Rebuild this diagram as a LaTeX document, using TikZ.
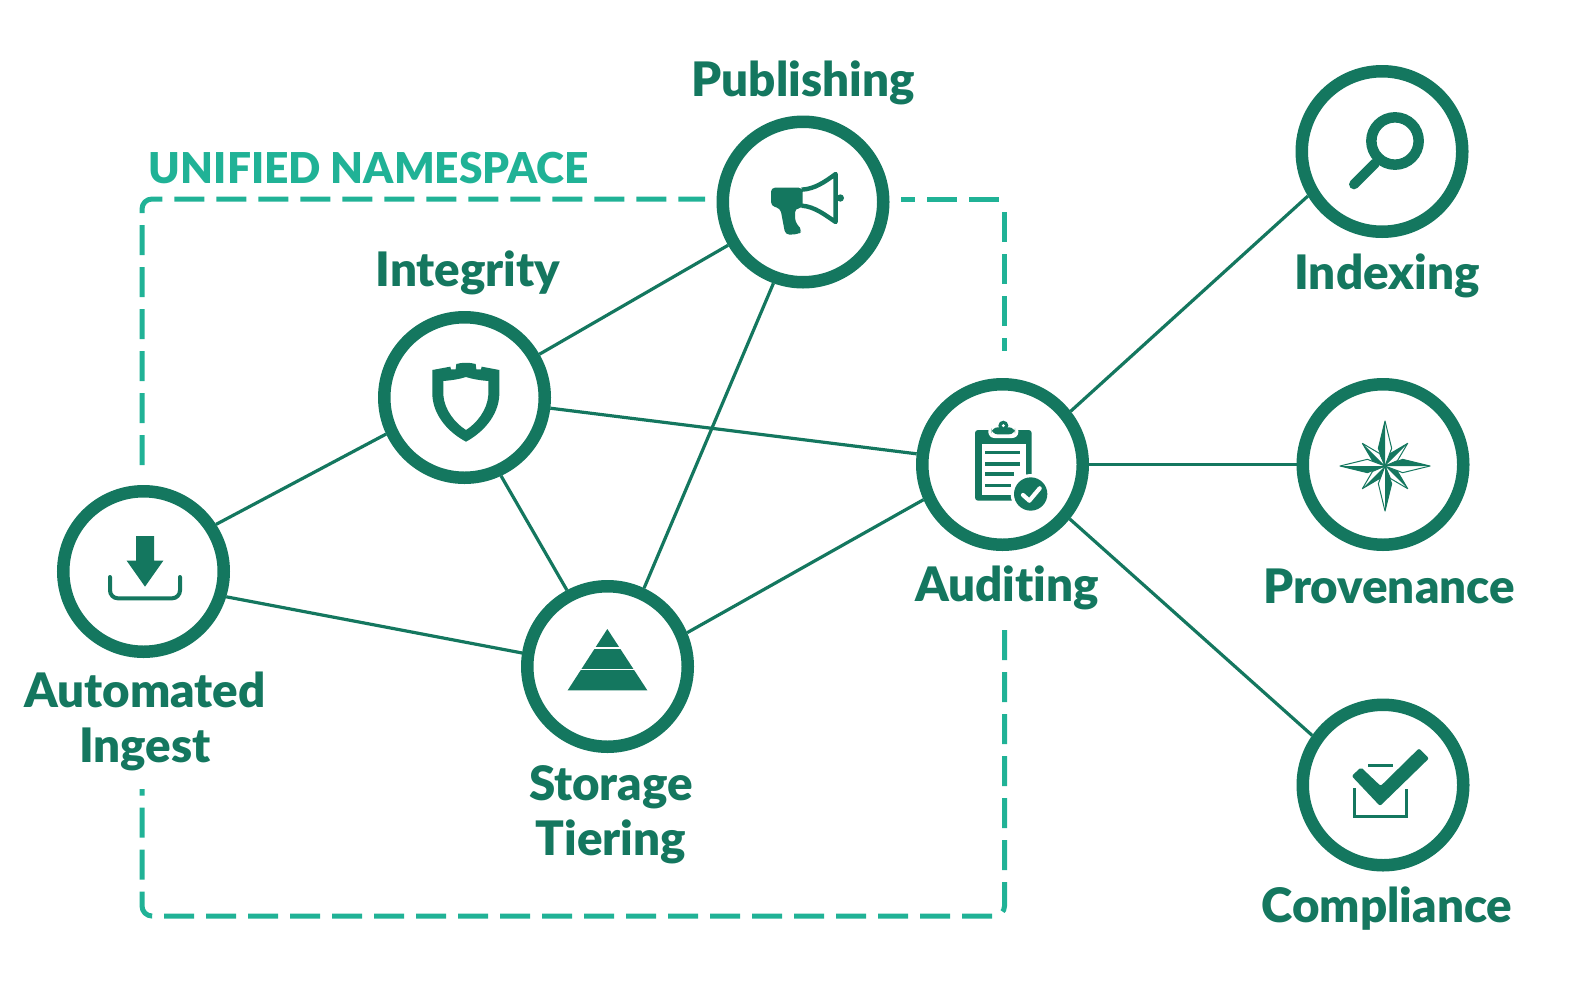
\documentclass[tikz,border=0pt]{standalone}
\usepackage{fontspec}
\setmainfont{Lato}[BoldFont=Lato Black, Ligatures=NoCommon]
\usepackage{tikz}
\usetikzlibrary{arrows.meta,positioning,calc}

\definecolor{ringgreen}{HTML}{14775F}
\definecolor{boxteal}{HTML}{20B296}

\tikzset{
    service/.style={circle, draw=ringgreen, fill=white, line width=12.5pt, minimum size=160.5pt, inner sep=0pt},
    link/.style={ringgreen, line width=3.2pt},
    tag/.style={text=ringgreen, font=\fontsize{47.5}{55}\selectfont\bfseries, align=center, inner sep=0pt},
    fence/.style={boxteal, line width=5pt, dash pattern=on 30pt off 12pt, rounded corners=10pt}
}

\begin{document}
\begin{tikzpicture}[x=1pt, y=-1pt]
    \useasboundingbox (0, 0) rectangle (1594, 988);

    % Namespace outline
    \coordinate (fenceA) at (142, 465);
    \coordinate (fenceB) at (705, 199);
    \coordinate (fenceC) at (901, 199);
    \coordinate (fenceG) at (1000, 199);
    \coordinate (fenceH) at (1004.5, 212);
    \coordinate (fenceD) at (1004.5, 351);
    \coordinate (fenceE) at (1004.5, 630);
    \coordinate (fenceF) at (142, 789);
    \draw[fence] (fenceA) |- (fenceB);
    \draw[fence, dash phase=16pt] (fenceC) -- (fenceG);
    \draw[fence] (fenceH) -- (fenceD);
    \draw[fence] (fenceE) |- (142, 916) -- (fenceF);
    \node[text=boxteal, font=\fontsize{42.5}{46}\selectfont\bfseries, inner sep=0pt] (namespace) at (369, 168) {UNIFIED NAMESPACE};

    % Service rings
    \node[service] (ingest) at (143.5, 571.5) {};
    \node[service] (integrity) at (464.5, 397.5) {};
    \node[service] (publishing) at (803, 202) {};
    \node[service] (storage) at (607.5, 666.5) {};
    \node[service] (auditing) at (1002.5, 464.5) {};
    \node[service] (indexing) at (1382, 151.5) {};
    \node[service] (provenance) at (1383, 464.5) {};
    \node[service] (compliance) at (1383, 785) {};

    % Links
    \foreach \a/\b in {ingest.33/integrity.205, ingest.343/storage.171, integrity/publishing, integrity/auditing,
        integrity.295/storage.118, publishing.250/storage.65, storage.23/auditing.204, auditing.38/indexing.211,
        auditing/provenance, auditing.321/compliance.145} {
        \draw[link] (\a) -- (\b);
    }

    % Labels
    \node[tag] (publishinglabel) at (803, 83) {Publishing};
    \node[tag] (integritylabel) at (468, 273) {Integrity};
    \node[tag] (indexinglabel) at (1387, 276) {Indexing};
    \node[tag] (auditinglabel) at (1007, 588) {Auditing};
    \node[tag] (provenancelabel) at (1389, 586) {Provenance};
    \node[tag] (compliancelabel) at (1387, 909) {Compliance};
    \node[tag] (ingestlabel) at (145, 721) {Automated\\Ingest};
    \node[tag] (storagelabel) at (611, 815) {Storage\\Tiering};

    % Download icon
    \begin{scope}[shift={(50, 480)}, scale=1/3]
        \fill[ringgreen] (258, 168) -- (312, 168) -- (312, 242) -- (340, 242) -- (285, 320) -- (230, 242) -- (258, 242) -- cycle;
        \draw[ringgreen, line width=4pt, line cap=round, rounded corners=8pt] (180, 291) -- (180, 355) -- (390, 355) -- (390, 291);
    \end{scope}

    % Shield icon
    \begin{scope}[shift={(370, 300)}, scale=1/3]
        \fill[ringgreen, even odd rule] (187, 210) -- (241, 200) -- (243, 208) -- (257, 208) -- (259, 192) .. controls (275, 187) and (300, 187) .. (317, 192)
            -- (319, 208) -- (333, 208) -- (335, 200) -- (388, 210) -- (388, 285) .. controls (385, 350) and (335, 400) .. (288, 425)
            .. controls (240, 400) and (190, 350) .. (187, 285) -- cycle
            (220, 243) .. controls (245, 241) and (270, 237) .. (288, 231) .. controls (306, 237) and (330, 241) .. (355, 243)
            -- (355, 285) .. controls (352, 330) and (320, 370) .. (288, 390) .. controls (256, 370) and (223, 330) .. (220, 285) -- cycle;
    \end{scope}

    % Megaphone icon
    \begin{scope}[shift={(700, 100)}, scale=1/3]
        \fill[ringgreen, rounded corners=4pt] (213, 263) -- (308, 263) -- (308, 325) -- (285, 325) -- (285, 365) -- (307, 392) -- (295, 403) -- (256, 404) -- (241, 325) -- (213, 318) -- cycle;
        \draw[ringgreen, line width=4.4pt, line join=round] (305, 269) .. controls (345, 267) and (375, 245) .. (407, 222) -- (407, 366) .. controls (375, 345) and (345, 320) .. (305, 317);
        \fill[ringgreen] (421, 294) circle (11);
    \end{scope}

    % Pyramid icon
    \begin{scope}[shift={(515, 575)}, scale=1/3]
        \fill[ringgreen] (277, 162) -- (397, 346) -- (158, 346) -- cycle;
        \foreach \y in {219, 284} {
            \draw[white, line width=1.6pt] (150, \y) -- (400, \y);
        }
    \end{scope}

    % Clipboard icon
    \begin{scope}[shift={(910, 370)}, scale=1/3]
        \fill[ringgreen, rounded corners=3pt] (195, 180) rectangle (365, 392);
        \fill[white] (215, 222) rectangle (347, 375);
        \fill[white, rounded corners=6pt] (235, 165) rectangle (325, 204);
        \fill[ringgreen, rounded corners=6pt] (245, 172) rectangle (315, 193);
        \fill[ringgreen] (280, 167) circle (15);
        \fill[white] (280, 167) circle (5);
        \foreach \y/\e in {247/330, 282/330, 312/312, 347/303} {
            \draw[ringgreen, line width=3.2pt] (225, \y) -- (\e, \y);
        }
        \fill[white] (362, 372) circle (60);
        \fill[ringgreen] (362, 372) circle (50);
        \draw[white, line width=4.2pt, line cap=round, line join=round] (339, 375) -- (358, 392) -- (389, 355);
    \end{scope}

    % Magnifier icon
    \begin{scope}[shift={(1290, 60)}, scale=1/3]
        \draw[ringgreen, line width=10.5pt] (315, 243) circle (71);
        \draw[ringgreen, line width=10pt, line cap=round] (255, 310) -- (192, 373);
    \end{scope}

    % Compass icon
    \begin{scope}[shift={(1385, 466)}, scale=1/3]
        \foreach \r in {45, 135, 225, 315} {
            \begin{scope}[rotate=\r]
                \filldraw[ringgreen, fill=white, line width=1pt, line join=round] (0, 0) -- (15, -38) -- (0, -96) -- (-15, -38) -- cycle;
                \fill[ringgreen] (0, 0) -- (0, -96) -- (-15, -38) -- cycle;
            \end{scope}
        }
        \foreach \r in {0, 90, 180, 270} {
            \begin{scope}[rotate=\r]
                \filldraw[ringgreen, fill=white, line width=1pt, line join=round] (0, 0) -- (20, -53) -- (0, -135) -- (-20, -53) -- cycle;
                \fill[ringgreen] (0, 0) -- (0, -135) -- (-20, -53) -- cycle;
            \end{scope}
        }
    \end{scope}

    % Checkbox icon
    \begin{scope}[shift={(1290, 690)}, scale=1/3]
        \draw[ringgreen, line width=3pt] (194, 295) -- (194, 378) -- (350, 378) -- (350, 298);
        \draw[ringgreen, line width=3pt] (235, 225) -- (308, 225);
        \filldraw[ringgreen, draw=white, line width=5pt, line join=round] (185, 258) -- (213, 232) -- (272, 288) -- (387, 175) -- (417, 205) -- (270, 348) -- cycle;
        \fill[ringgreen, rounded corners=2pt] (185, 258) -- (213, 232) -- (272, 288) -- (387, 175) -- (417, 205) -- (270, 348) -- cycle;
    \end{scope}
\end{tikzpicture}
\end{document}
